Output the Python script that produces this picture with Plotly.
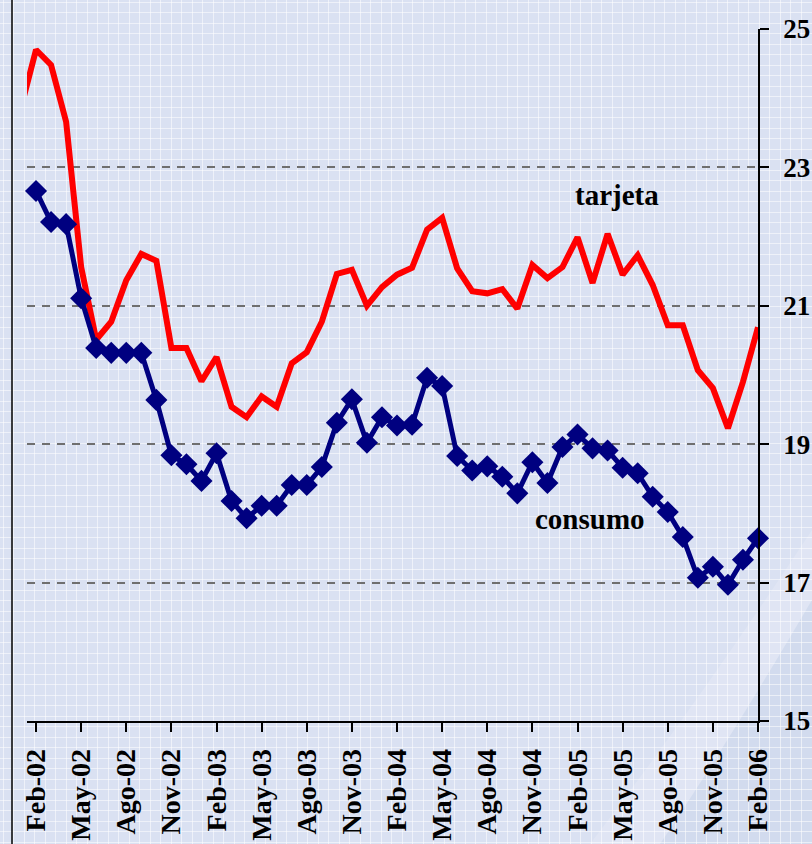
import plotly.graph_objects as go

# Monthly series, Ene-02 .. Feb-06 (tasa, %)
abrev = ["Ene", "Feb", "Mar", "Abr", "May", "Jun", "Jul", "Ago", "Sep", "Oct", "Nov", "Dic"]
meses = [f"{m}-{a:02d}" for a in range(2, 7) for m in abrev][:50]

tarjeta = [
    23.86, 24.70, 24.48, 23.66, 21.56, 20.51, 20.77, 21.37, 21.75, 21.65, 20.39, 20.39,
    19.91, 20.26, 19.54, 19.39, 19.69, 19.54, 20.17, 20.33, 20.77, 21.46, 21.52, 21.00,
    21.27, 21.45, 21.55, 22.10, 22.27, 21.54, 21.21, 21.18, 21.24, 20.96, 21.59, 21.40,
    21.56, 21.99, 21.33, 22.04, 21.45, 21.73, 21.30, 20.72, 20.72, 20.07, 19.81, 19.23,
    19.90, 20.69,
]

# consumo starts in Feb-02
consumo = [
    22.66, 22.21, 22.18, 21.11, 20.39, 20.32, 20.32, 20.32, 19.64, 18.84, 18.71,
    18.47, 18.87, 18.18, 17.93, 18.11, 18.11, 18.41, 18.41, 18.67, 19.31, 19.65, 19.02,
    19.39, 19.27, 19.28, 19.96, 19.84, 18.83, 18.62, 18.68, 18.53, 18.29, 18.74, 18.44,
    18.96, 19.14, 18.94, 18.91, 18.66, 18.58, 18.24, 18.02, 17.66, 17.07, 17.23, 16.97,
    17.33, 17.64,
]

tick_labels = ["Feb-02", "May-02", "Ago-02", "Nov-02", "Feb-03", "May-03", "Ago-03",
               "Nov-03", "Feb-04", "May-04", "Ago-04", "Nov-04", "Feb-05", "May-05",
               "Ago-05", "Nov-05", "Feb-06"]
y_ticks = [15, 17, 19, 21, 23, 25]

W, H = 812, 844
SERIF = "Liberation Serif, Times New Roman, serif"

fig = go.Figure()

# data on x2/y2 so that the textured backdrop subplot (x/y) sits underneath
fig.add_trace(go.Scatter(
    x=meses[:len(tarjeta)], y=tarjeta, mode="lines", name="tarjeta",
    line=dict(color="#ff0000", width=6),
    xaxis="x2", yaxis="y2", showlegend=False, hoverinfo="skip",
))
fig.add_trace(go.Scatter(
    x=meses[1:1 + len(consumo)], y=consumo, mode="lines+markers", name="consumo",
    line=dict(color="#000080", width=5),
    marker=dict(symbol="diamond", size=17, color="#000080"),
    cliponaxis=False,
    xaxis="x2", yaxis="y2", showlegend=False, hoverinfo="skip",
))

# plot-area geometry in pixels
left_px, right_px, top_px, bottom_px = 27, 758, 29, 721

fig.update_layout(
    width=W, height=H,
    margin=dict(l=0, r=0, t=0, b=0),
    paper_bgcolor="#dae1f2",
    plot_bgcolor="rgba(0,0,0,0)",
    # backdrop: fine white lattice across the whole page
    xaxis=dict(domain=[0, 1], range=[0, W], showgrid=True, dtick=10.5, tick0=3,
               gridcolor="rgba(255,255,255,0.55)", gridwidth=1,
               showticklabels=False, zeroline=False, showline=False, fixedrange=True),
    yaxis=dict(domain=[0, 1], range=[H, 0], showgrid=True, dtick=10.5, tick0=2,
               gridcolor="rgba(255,255,255,0.55)", gridwidth=1,
               showticklabels=False, zeroline=False, showline=False, fixedrange=True),
    xaxis2=dict(
        domain=[left_px / W, right_px / W], anchor="y2",
        type="category", categoryorder="array", categoryarray=meses,
        range=[0.4, 49],
        tickvals=tick_labels, ticktext=tick_labels, tickangle=-90,
        ticks="outside", ticklen=9, tickwidth=1.5, tickcolor="black",
        ticklabelstandoff=6,
        tickfont=dict(family=SERIF, size=28, color="black", weight="bold"),
        showline=True, linecolor="black", linewidth=1.5,
        showgrid=False, zeroline=False, automargin=False,
    ),
    yaxis2=dict(
        domain=[(H - bottom_px) / H, (H - top_px) / H], anchor="x2", side="right",
        range=[15, 25], tickvals=y_ticks,
        ticks="outside", ticklen=9, tickwidth=1.5, tickcolor="black",
        ticklabelstandoff=9,
        tickfont=dict(family=SERIF, size=27, color="black", weight="bold"),
        showline=True, linecolor="black", linewidth=1.5,
        showgrid=True, gridcolor="#6f6f6f", gridwidth=1.5, griddash="8px,7px",
        zeroline=False, automargin=False,
    ),
    annotations=[
        dict(x=39.6, y=22.6, xref="x2", yref="y2", text="tarjeta", showarrow=False,
             font=dict(family=SERIF, size=29, color="black", weight="bold")),
        dict(x=37.8, y=17.92, xref="x2", yref="y2", text="consumo", showarrow=False,
             font=dict(family=SERIF, size=29, color="black", weight="bold")),
    ],
    shapes=[
        # soft light sweep in the lower right corner
        dict(type="path", xref="x", yref="y", layer="below",
             path="M 590 844 Q 700 700 812 530 L 812 600 Q 730 740 660 844 Z",
             fillcolor="rgba(255,255,255,0.16)", line=dict(width=0)),
        dict(type="path", xref="x", yref="y", layer="below",
             path="M 660 844 Q 730 740 812 600 L 812 844 Z",
             fillcolor="rgba(160,180,215,0.12)", line=dict(width=0)),
        # left frame rule
        dict(type="line", xref="x", yref="y", x0=12, x1=12, y0=0, y1=H,
             line=dict(color="black", width=1.5)),
    ],
)

fig.write_html("out.html")
